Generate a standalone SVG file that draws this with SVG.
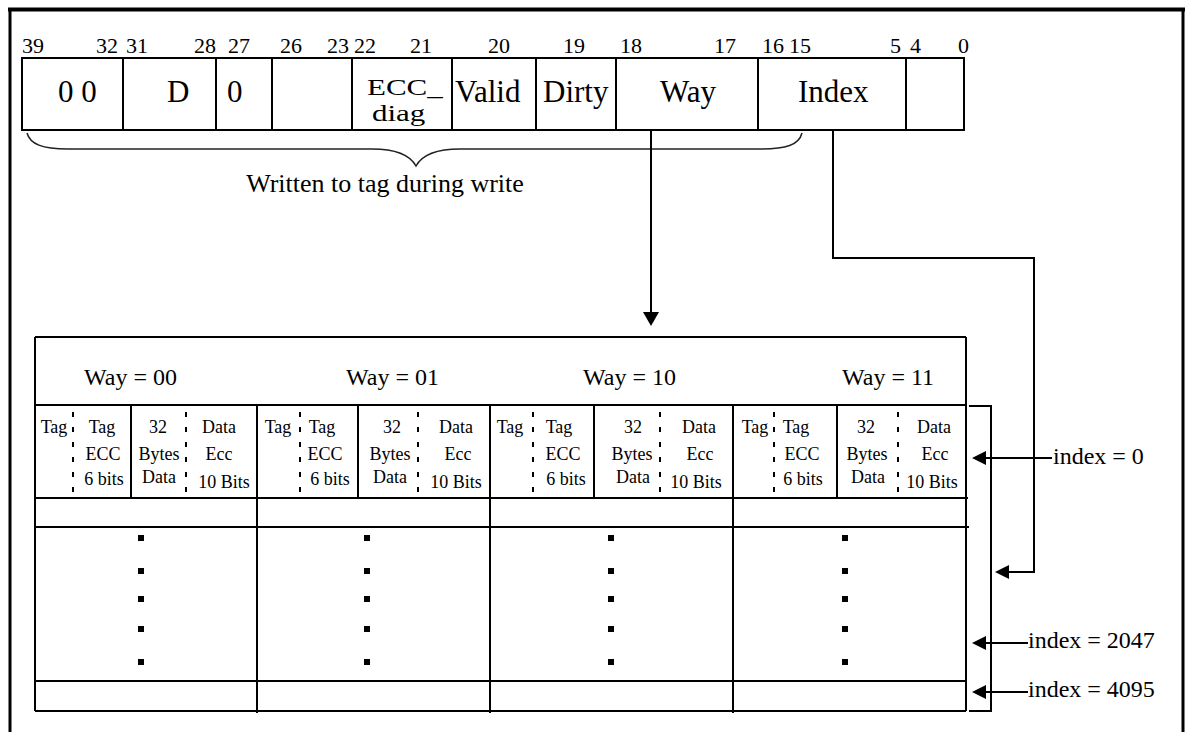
<svg xmlns="http://www.w3.org/2000/svg" width="1188" height="732" viewBox="0 0 1188 732">
<style>
text{font-family:"Liberation Serif","Times New Roman",serif;fill:#000}
.ln{stroke:#000;stroke-width:2;fill:none}
.frame{stroke:#000;fill:none}
.dash{stroke:#000;stroke-width:2;stroke-dasharray:5 10;fill:none}
.bit{font-size:22px}
.lbl{font-size:31px}
.hdr{font-size:24px}
.cell{font-size:18px;text-anchor:middle}
.idx{font-size:24px}
.head{fill:#000;stroke:none}
.dot{fill:#000}
</style>
<rect width="1188" height="732" fill="#fff"/>
<g id="frame">
<line class="frame" x1="8" y1="9.5" x2="1185" y2="9.5" stroke-width="4"/>
<line class="frame" x1="10" y1="8" x2="10" y2="732" stroke-width="3"/>
<line class="frame" x1="1183" y1="8" x2="1183" y2="732" stroke-width="3"/>
</g>
<g id="bit-numbers" class="bit">
<text x="22" y="53">39</text>
<text x="96" y="53">32</text>
<text x="126" y="53">31</text>
<text x="194" y="53">28</text>
<text x="228" y="53">27</text>
<text x="280" y="53">26</text>
<text x="327" y="53">23</text>
<text x="354" y="53">22</text>
<text x="410" y="53">21</text>
<text x="488" y="53">20</text>
<text x="563" y="53">19</text>
<text x="620" y="53">18</text>
<text x="714" y="53">17</text>
<text x="762" y="53">16</text>
<text x="789" y="53">15</text>
<text x="890" y="53">5</text>
<text x="910" y="53">4</text>
<text x="958" y="53">0</text>
</g>
<g id="register">
<rect class="ln" x="22" y="58" width="942" height="72"/>
<path class="ln" d="M123,58V130M216,58V130M272,58V130M352,58V130M452,58V130M536,58V130M616,58V130M758,58V130M906,58V130"/>
<g class="lbl">
<text x="58" y="102">0 0</text>
<text x="167" y="102">D</text>
<text x="227" y="102">0</text>
<text transform="translate(367,95) scale(1,0.76)">ECC_</text>
<text transform="translate(372,121) scale(1,0.76)">diag</text>
<text x="455" y="102">Valid</text>
<text x="543" y="102">Dirty</text>
<text x="660" y="102">Way</text>
<text x="798" y="102">Index</text>
</g>
</g>
<g id="brace">
<path d="M27,133 C30,144 42,149 68,149 H372 C396,149 410,155 416,166 C422,155 436,149 460,149 H760 C786,149 799,145 802,133" fill="none" stroke="#222" stroke-width="1.5"/>
<text x="385" y="192" font-size="26" text-anchor="middle">Written to tag during write</text>
</g>
<g id="cache-table">
<path class="ln" d="M35,337H966M35,337V711M966,337V711"/>
<path class="ln" d="M35,405H966M35,498H968M35,527H969M35,681H966M35,711H966"/>
<path class="ln" d="M257,405V713M490,405V713M733,405V713"/>
<path class="ln" d="M131,405V498M358,405V498M594,405V498M837,405V498"/>
<path class="dash" d="M73,412V498M186,412V498M300,412V498M418,412V498M533,412V498M660,412V498M774,412V498M898,412V498"/>
<g class="hdr">
<text x="84" y="385">Way = 00</text>
<text x="346" y="385">Way = 01</text>
<text x="583" y="385">Way = 10</text>
<text x="842" y="385">Way = 11</text>
</g>
<g id="way0" class="cell">
<text x="54" y="433">Tag</text>
<text x="102" y="433">Tag</text><text x="103" y="460">ECC</text><text x="104" y="485">6 bits</text>
<text x="158" y="433">32</text><text x="159" y="460">Bytes</text><text x="159" y="483">Data</text>
<text x="219" y="433">Data</text><text x="219" y="460">Ecc</text><text x="224" y="488">10 Bits</text>
</g>
<g id="way1" class="cell">
<text x="278" y="433">Tag</text>
<text x="322" y="433">Tag</text><text x="325" y="460">ECC</text><text x="330" y="485">6 bits</text>
<text x="392" y="433">32</text><text x="390" y="460">Bytes</text><text x="390" y="483">Data</text>
<text x="456" y="433">Data</text><text x="458" y="460">Ecc</text><text x="456" y="488">10 Bits</text>
</g>
<g id="way2" class="cell">
<text x="510" y="433">Tag</text>
<text x="559" y="433">Tag</text><text x="563" y="460">ECC</text><text x="566" y="485">6 bits</text>
<text x="633" y="433">32</text><text x="632" y="460">Bytes</text><text x="633" y="483">Data</text>
<text x="699" y="433">Data</text><text x="700" y="460">Ecc</text><text x="696" y="488">10 Bits</text>
</g>
<g id="way3" class="cell">
<text x="755" y="433">Tag</text>
<text x="796" y="433">Tag</text><text x="802" y="460">ECC</text><text x="803" y="485">6 bits</text>
<text x="866" y="433">32</text><text x="867" y="460">Bytes</text><text x="868" y="483">Data</text>
<text x="934" y="433">Data</text><text x="935" y="460">Ecc</text><text x="932" y="488">10 Bits</text>
</g>
<g id="dots" class="dot">
<rect x="138" y="535" width="6" height="6"/><rect x="138" y="568" width="6" height="6"/><rect x="138" y="596" width="6" height="6"/><rect x="138" y="626" width="6" height="6"/><rect x="138" y="659" width="6" height="6"/>
<rect x="364" y="535" width="6" height="6"/><rect x="364" y="568" width="6" height="6"/><rect x="364" y="596" width="6" height="6"/><rect x="364" y="626" width="6" height="6"/><rect x="364" y="659" width="6" height="6"/>
<rect x="608" y="535" width="6" height="6"/><rect x="608" y="568" width="6" height="6"/><rect x="608" y="596" width="6" height="6"/><rect x="608" y="626" width="6" height="6"/><rect x="608" y="659" width="6" height="6"/>
<rect x="842" y="535" width="6" height="6"/><rect x="842" y="568" width="6" height="6"/><rect x="842" y="596" width="6" height="6"/><rect x="842" y="626" width="6" height="6"/><rect x="842" y="659" width="6" height="6"/>
</g>
<path id="index-bracket" class="ln" d="M969,406H991V711H969"/>
</g>
<g id="connectors">
<path class="ln" d="M651,131V313"/>
<polygon class="head" points="643,312 659,312 651,326"/>
<path class="ln" d="M833,131V258H1034V572H1008"/>
<polygon class="head" points="995,572 1009,565 1009,579"/>
<path class="ln" d="M984,458H1052"/>
<polygon class="head" points="972,458 986,451 986,465"/>
<path class="ln" d="M984,643H1028"/>
<polygon class="head" points="972,643 986,636 986,650"/>
<path class="ln" d="M984,692H1028"/>
<polygon class="head" points="972,692 986,685 986,699"/>
</g>
<g id="index-labels" class="idx">
<text x="1053" y="464">index = 0</text>
<text x="1028" y="648">index = 2047</text>
<text x="1028" y="697">index = 4095</text>
</g>
</svg>
